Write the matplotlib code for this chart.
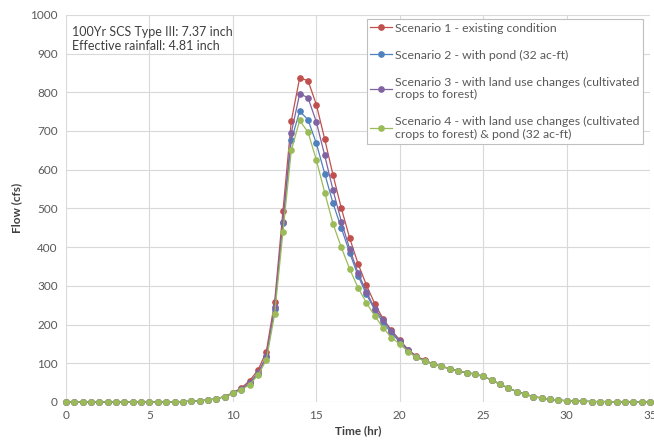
import numpy as np
import matplotlib
matplotlib.use("Agg")
import matplotlib.pyplot as plt

plt.rcParams['font.family'] = ['Lato', 'DejaVu Sans']

# time steps every 0.5 hr, 0 to 35
time_hr = np.arange(0, 35.01, 0.5)

# shared parts of the hydrographs
rise = [0, 0, 0, 0, 0, 0, 0, 0, 0, 0, 0, 0, 0, 0, 1, 2, 3, 5, 8, 14]   # 0 - 9.5 hr
tail = [98, 92, 86, 80, 76, 72, 66, 57, 46, 36, 27, 20, 14, 10, 7, 5, 3, 2, 2, 1,
        1, 1, 0, 0, 0, 0, 0, 0, 0]   # 22 - 36 hr

scen1 = rise + [24, 36, 55, 82, 130, 258, 494, 726, 837, 830, 768, 679, 586, 500, 423,
                357, 302, 254, 215, 185, 160, 135, 118, 108] + tail
scen2 = rise + [22, 32, 48, 72, 115, 240, 463, 676, 751, 729, 668, 590, 513, 449, 385,
                326, 278, 238, 205, 178, 155, 132, 116, 106] + tail
scen3 = rise + [23, 34, 50, 75, 118, 245, 466, 695, 796, 786, 723, 637, 547, 466, 395,
                333, 285, 241, 213, 183, 158, 134, 117, 107] + tail
scen4 = rise + [22, 31, 45, 69, 108, 227, 440, 650, 727, 697, 625, 541, 460, 399, 343,
                295, 256, 222, 192, 166, 150, 130, 115, 105] + tail
scen1, scen2, scen3, scen4 = [s[:len(time_hr)] for s in (scen1, scen2, scen3, scen4)]

labels = ["Scenario 1 - existing condition",
          "Scenario 2 - with pond (32 ac-ft)",
          "Scenario 3 - with land use changes (cultivated\ncrops to forest)",
          "Scenario 4 - with land use changes (cultivated\ncrops to forest) & pond (32 ac-ft)"]
colors = ["#C0504D", "#4F81BD", "#8064A2", "#9BBB59"]

fig = plt.figure(figsize=(6.54, 4.43), dpi=100)
ax = fig.add_axes([0.101, 0.0926, 0.893, 0.874])

for s, lab, c in zip([scen1, scen2, scen3, scen4], labels, colors):
    ax.plot(time_hr, s, color=c, lw=0.9, marker='o', ms=3.8, label=lab, clip_on=False)

ax.set_xlim(0, 35)
ax.set_ylim(0, 1000)
ax.set_xticks(np.arange(0, 36, 5))
ax.set_yticks(np.arange(0, 1001, 100))
ax.grid(True, color='#d9d9d9', lw=0.8)
ax.set_axisbelow(True)
for sp in ax.spines.values():
    sp.set_visible(False)
ax.tick_params(length=0, labelsize=8.5, colors='#595959', pad=6)

ax.set_xlabel("Time (hr)", fontsize=8.5, fontweight='bold', color='#404040', labelpad=3)
ax.set_ylabel("Flow (cfs)", fontsize=8.5, fontweight='bold', color='#404040', labelpad=6)

ax.text(0.35, 970, "100Yr SCS Type III: 7.37 inch\nEffective rainfall: 4.81 inch",
        fontsize=9, color='#404040', va='top', linespacing=1.2)

leg = ax.legend(loc='upper right', bbox_to_anchor=(0.998, 1.005), fontsize=8.8,
                frameon=True, fancybox=False, edgecolor='#bfbfbf', framealpha=1,
                labelspacing=1.3, handlelength=1.8, handletextpad=0.2, borderpad=0.3)
leg.get_frame().set_linewidth(0.8)
for t in leg.get_texts():
    t.set_color('#595959')

fig.savefig("out.png", dpi=100)
